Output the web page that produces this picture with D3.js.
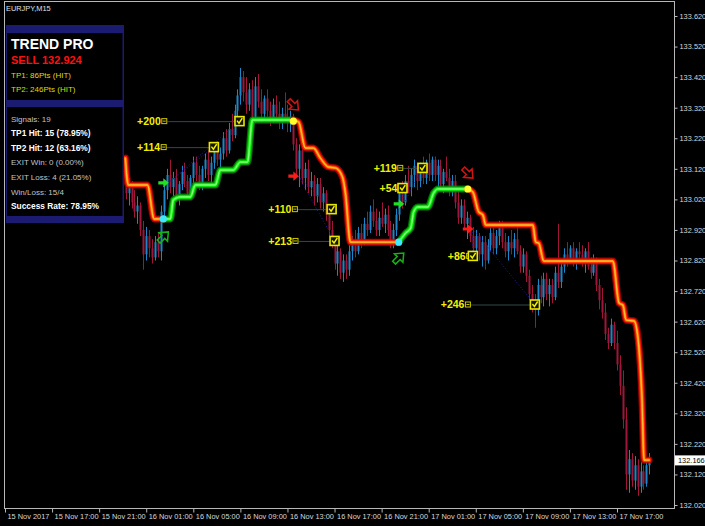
<!DOCTYPE html>
<html><head><meta charset="utf-8">
<script src="https://cdn.jsdelivr.net/npm/d3@7"></script>
<style>
html,body{margin:0;padding:0;background:#000;}
svg{display:block;}
text{font-family:"Liberation Sans",Arial,sans-serif;}
</style></head>
<body>
<svg id="chart" width="705" height="526"></svg>
<script>
// ---------------- DATA ----------------
const symbolTitle = "EURJPY,M15";
const firstBarTime = Date.UTC(2017, 10, 15, 23, 15); // first visible M15 bar
const barMinutes = 15;

const opens = [133.06,
133.04,133.07,133.01,132.98,133.00,132.92,132.84,132.90,132.86,132.83,
132.88,132.85,132.98,133.05,133.10,133.06,133.09,133.03,133.07,133.11,
133.08,133.04,133.09,133.14,133.10,133.07,133.12,133.15,133.10,133.14,
133.18,133.15,133.17,133.22,133.18,133.25,133.23,133.31,133.36,133.42,
133.37,133.33,133.38,133.29,133.39,133.34,133.30,133.35,133.31,133.28,
133.33,133.30,133.27,133.30,133.29,133.27,133.29,133.20,133.12,133.18,
133.09,133.12,133.06,133.08,133.03,133.07,133.01,133.04,132.97,132.92,
132.88,132.81,132.85,132.78,132.82,132.79,132.85,132.88,132.85,132.91,
132.88,132.94,132.92,132.98,132.95,132.92,132.96,132.94,132.97,132.92,
132.88,132.92,132.97,133.04,133.01,133.08,133.06,133.10,133.13,133.08,
133.12,133.09,133.14,133.10,133.15,133.10,133.13,133.07,133.11,133.09,
133.05,133.08,133.01,132.96,133.00,132.94,132.96,132.90,132.86,132.90,
132.84,132.88,132.82,132.87,132.91,132.86,132.90,132.93,132.88,132.85,
132.88,132.86,132.89,132.85,132.80,132.84,132.77,132.71,132.68,132.66,
132.74,132.70,132.76,132.71,132.74,132.70,132.78,132.75,132.80,132.84,
132.82,132.86,132.81,132.85,132.84,132.82,132.85,132.80,132.78,132.82,
132.74,132.69,132.65,132.58,132.55,132.61,132.55,132.48,132.41,132.30,
132.12,132.17,132.10,132.15,132.08,132.13,132.09,132.15];

const closes = [
133.04,133.07,133.01,132.98,133.00,132.92,132.84,132.90,132.86,132.83,
132.88,132.85,132.98,133.05,133.10,133.06,133.09,133.03,133.07,133.11,
133.08,133.04,133.09,133.14,133.10,133.07,133.12,133.15,133.10,133.14,
133.18,133.15,133.17,133.22,133.18,133.25,133.23,133.31,133.36,133.42,
133.37,133.33,133.38,133.29,133.39,133.34,133.30,133.35,133.31,133.28,
133.33,133.30,133.27,133.30,133.29,133.27,133.29,133.20,133.12,133.18,
133.09,133.12,133.06,133.08,133.03,133.07,133.01,133.04,132.97,132.92,
132.88,132.81,132.85,132.78,132.82,132.79,132.85,132.88,132.85,132.91,
132.88,132.94,132.92,132.98,132.95,132.92,132.96,132.94,132.97,132.92,
132.88,132.92,132.97,133.04,133.01,133.08,133.06,133.10,133.13,133.08,
133.12,133.09,133.14,133.10,133.15,133.10,133.13,133.07,133.11,133.09,
133.05,133.08,133.01,132.96,133.00,132.94,132.96,132.90,132.86,132.90,
132.84,132.88,132.82,132.87,132.91,132.86,132.90,132.93,132.88,132.85,
132.88,132.86,132.89,132.85,132.80,132.84,132.77,132.71,132.68,132.66,
132.74,132.70,132.76,132.71,132.74,132.70,132.78,132.75,132.80,132.84,
132.82,132.86,132.81,132.85,132.84,132.82,132.85,132.80,132.78,132.82,
132.74,132.69,132.65,132.58,132.55,132.61,132.55,132.48,132.41,132.30,
132.12,132.17,132.10,132.15,132.08,132.13,132.09,132.15,132.166];

const highs = [
133.10,133.09,133.08,133.05,133.03,133.01,132.95,132.93,132.92,132.89,
132.90,132.91,133.00,133.07,133.12,133.15,133.11,133.12,133.08,133.13,
133.14,133.10,133.10,133.16,133.16,133.13,133.13,133.17,133.18,133.16,
133.20,133.21,133.19,133.24,133.25,133.27,133.30,133.33,133.38,133.45,
133.44,133.42,133.40,133.41,133.42,133.43,133.38,133.36,133.38,133.34,
133.35,133.36,133.34,133.32,133.37,133.33,133.31,133.30,133.22,133.20,
133.19,133.14,133.15,133.11,133.10,133.09,133.09,133.06,133.05,133.00,
132.95,132.90,132.87,132.86,132.84,132.84,132.87,132.90,132.92,132.93,
132.94,132.96,132.98,133.00,133.02,132.99,132.98,133.01,132.99,133.00,
132.95,132.94,132.99,133.06,133.08,133.10,133.13,133.12,133.15,133.14,
133.14,133.16,133.15,133.17,133.16,133.16,133.15,133.15,133.12,133.16,
133.12,133.10,133.10,133.05,133.02,133.02,132.98,132.97,132.93,132.92,
132.91,132.90,132.90,132.89,132.93,132.93,132.92,132.95,132.95,132.91,
132.90,132.92,132.91,132.93,132.87,132.86,132.85,132.79,132.74,132.71,
132.76,132.77,132.78,132.78,132.76,132.76,132.80,132.94,132.82,132.86,
132.88,132.87,132.88,132.86,132.88,132.87,132.86,132.88,132.83,132.84,
132.83,132.76,132.73,132.68,132.60,132.63,132.62,132.59,132.51,132.46,
132.34,132.20,132.19,132.18,132.17,132.16,132.15,132.17,132.19];

const lows = [
133.02,133.00,132.99,132.96,132.94,132.90,132.79,132.82,132.83,132.81,
132.82,132.83,132.82,132.96,133.02,133.04,133.03,133.01,133.00,133.05,
133.06,133.02,133.03,133.07,133.08,133.05,133.05,133.09,133.08,133.07,
133.12,133.13,133.11,133.15,133.16,133.17,133.21,133.22,133.28,133.33,
133.34,133.30,133.31,133.26,133.27,133.32,133.27,133.28,133.29,133.26,
133.27,133.28,133.25,133.25,133.28,133.24,133.24,133.18,133.10,133.06,
133.07,133.05,133.04,133.03,133.00,133.01,132.99,132.98,132.95,132.90,
132.86,132.79,132.77,132.76,132.75,132.76,132.77,132.82,132.83,132.84,
132.86,132.87,132.90,132.91,132.93,132.90,132.90,132.93,132.91,132.90,
132.86,132.86,132.90,132.95,132.99,133.00,133.04,133.03,133.06,133.05,
133.06,133.07,133.07,133.08,133.08,133.08,133.06,133.05,133.04,133.08,
133.03,133.03,132.99,132.94,132.94,132.92,132.89,132.88,132.84,132.84,
132.82,132.80,132.79,132.81,132.85,132.84,132.84,132.87,132.86,132.83,
132.82,132.84,132.83,132.84,132.78,132.78,132.75,132.69,132.65,132.60,
132.64,132.68,132.67,132.69,132.67,132.68,132.69,132.73,132.73,132.78,
132.80,132.81,132.80,132.79,132.82,132.80,132.78,132.79,132.76,132.77,
132.72,132.66,132.63,132.56,132.53,132.54,132.53,132.46,132.38,132.27,
132.07,132.06,132.08,132.07,132.05,132.06,132.07,132.08,132.12];

// trend line vertices (bar index, price, direction of segment starting here)
const trendIdx   = [-0.1, 0.9, 7.4, 9.7, 12.8, 15.2, 16.2, 18.6, 22.0, 23.7, 30.5, 32.2, 36.6, 39.0, 41.4, 43.1, 57.0,
                    58.8, 61.1, 63.8, 66.2, 68.9, 71.3, 73.7, 74.7, 76.4, 92.8,
                    95.2, 96.9, 97.9, 99.3, 102.7, 104.7, 106.1, 116.3,
                    118.0, 120.0, 121.4, 122.4, 138.4, 139.4, 140.4, 142.1, 165.6, 167.7, 169.0, 170.1, 172.8, 174.2, 175.5, 176.2, 177.9];
const trendPrice = [133.155, 133.067, 133.067, 132.956, 132.956, 132.956, 133.018, 133.028, 133.028, 133.067, 133.067, 133.116, 133.116, 133.142, 133.142, 133.280, 133.280,
                    133.273, 133.188, 133.188, 133.155, 133.126, 133.123, 133.093, 133.041, 132.880, 132.880,
                    132.910, 132.926, 132.979, 132.995, 132.995, 133.041, 133.054, 133.054,
                    133.044, 132.979, 132.969, 132.936, 132.936, 132.880, 132.877, 132.818, 132.818, 132.681, 132.674, 132.625, 132.622, 132.560, 132.363, 132.167, 132.167];
const trendDir   = ["S","S","S","S","B","B","B","B","B","B","B","B","B","B","B","B","S",
                    "S","S","S","S","S","S","S","S","S","B",
                    "B","B","B","B","B","B","B","S",
                    "S","S","S","S","S","S","S","S","S","S","S","S","S","S","S","S","S"];

// signals
const sigIdx        = [12.8, 57.0, 92.8, 116.3];
const sigType       = ["buy", "sell", "buy", "sell"];
const sigDotPrice   = [132.956, 133.276, 132.880, 133.054];
const sigEntryPrice = [133.074, 133.096, 133.005, 132.923];
const sigHollowPrice= [132.897, 133.329, 132.828, 133.106];

// take-profit annotations
const tpText     = ["+200", "+114", "+110", "+213", "+119", "+54", "+86", "+246"];
const tpPrice    = [133.276, 133.191, 132.988, 132.884, 133.123, 133.057, 132.835, 132.676];
const tpBoxIdx   = [38.7, 30.0, 70.0, 71.0, 100.9, 94.1, 118.0, 139.1];
const tpTextIdx  = [3.9, 3.9, 48.5, 48.5, 84.3, 86.3, 109.5, 107.1];
const tpSignal   = [0, 0, 1, 1, 2, 2, 3, 3];

// axes
const axisStartTime = Date.UTC(2017, 10, 15, 13, 0);
const timeTickLabels = ["15 Nov 2017","15 Nov 17:00","15 Nov 21:00","16 Nov 01:00","16 Nov 05:00","16 Nov 09:00","16 Nov 13:00",
  "16 Nov 17:00","16 Nov 21:00","17 Nov 01:00","17 Nov 05:00","17 Nov 09:00","17 Nov 13:00","17 Nov 17:00"];
const priceTicks = [133.620,133.520,133.420,133.320,133.220,133.120,133.020,132.920,132.820,132.720,132.620,132.520,132.420,132.320,132.220,132.120,132.020];
const currentPrice = 132.166;

// info panel
const panelTitle = "TREND PRO";
const panelSignal = "SELL 132.924";
const panelTP = ["TP1: 86Pts (HIT)", "TP2: 246Pts (HIT)"];
const panelStats = ["Signals: 19", "TP1 Hit: 15 (78.95%)", "TP2 Hit: 12 (63.16%)", "EXIT Win: 0 (0.00%)", "EXIT Loss: 4 (21.05%)", "Win/Loss: 15/4", "Success Rate: 78.95%"];
const panelStatsBold = [false, true, true, false, false, false, true];

// ---------------- DRAW ----------------
const svg = d3.select("#chart");
const W = 705, H = 526;
const L = 4, R = 674, T = 1, B = 508;

svg.append("rect").attr("width", W).attr("height", H).attr("fill", "#000");

const hourMs = 3600000;
const x = d3.scaleUtc()
  .domain([new Date(axisStartTime), new Date(axisStartTime + 52 * hourMs)])
  .range([5, 617]);
const y = d3.scaleLinear().domain([132.020, 133.620]).range([505, 16]);
const barMs = barMinutes * 60000;
const xi = i => x(new Date(firstBarTime + i * barMs));

svg.append("defs").append("clipPath").attr("id", "plot")
  .append("rect").attr("x", L).attr("y", T).attr("width", R - L).attr("height", B - T);

const plot = svg.append("g").attr("clip-path", "url(#plot)");

// candles
const bull = "#1d86c8", bear = "#a0163a";
const candles = plot.append("g");
closes.forEach((c, i) => {
  const o = opens[i], h = highs[i], l = lows[i];
  const col = c >= o ? bull : bear;
  const cx = Math.round(xi(i));
  candles.append("line").attr("x1", cx + 0.5).attr("x2", cx + 0.5)
    .attr("y1", y(h)).attr("y2", y(l)).attr("stroke", col).attr("stroke-width", 1);
  const top = y(Math.max(o, c)), bot = y(Math.min(o, c));
  candles.append("rect").attr("x", cx - 0.5).attr("width", 2)
    .attr("y", top).attr("height", Math.max(1, bot - top)).attr("fill", col);
});

// dotted entry -> TP lines
tpText.forEach((t, k) => {
  const s = tpSignal[k];
  plot.append("line")
    .attr("x1", xi(sigIdx[s]) + 5).attr("y1", y(sigEntryPrice[s]))
    .attr("x2", xi(tpBoxIdx[k])).attr("y2", y(tpPrice[k]))
    .attr("stroke", "#1e1e96").attr("stroke-width", 1).attr("stroke-dasharray", "1,2");
});

// trend line
const segs = [];
let cur = null;
for (let k = 0; k < trendIdx.length - 1; k++) {
  const d = trendDir[k];
  if (!cur || cur.dir !== d) {
    cur = { dir: d, pts: [[trendIdx[k], trendPrice[k]]] };
    segs.push(cur);
  }
  cur.pts.push([trendIdx[k + 1], trendPrice[k + 1]]);
}
const lineGen = d3.line().x(p => xi(p[0])).y(p => y(p[1])).curve(d3.curveMonotoneX);
const styles = {
  S: [["#c00000", 7, 0.8], ["#ff1e00", 4.6, 1], ["#ff8a00", 2.4, 1], ["#ffd850", 0.8, 1]],
  B: [["#008800", 7, 0.8], ["#00d000", 4.6, 1], ["#30ff30", 2.4, 1], ["#b0ffa0", 0.8, 1]]
};
const trendG = plot.append("g");
segs.forEach(sg => {
  styles[sg.dir].forEach(([c, w, op]) => {
    trendG.append("path").attr("d", lineGen(sg.pts)).attr("fill", "none")
      .attr("stroke", c).attr("stroke-width", w).attr("stroke-opacity", op)
      .attr("stroke-linejoin", "round").attr("stroke-linecap", "round");
  });
});

// signal dots & arrows
const arrowPath = "M-5,-1.6 L0,-1.6 L0,-4.6 L5.5,0 L0,4.6 L0,1.6 L-5,1.6 Z";
sigIdx.forEach((si, k) => {
  const buy = sigType[k] === "buy";
  const cx = xi(si);
  plot.append("circle").attr("cx", cx).attr("cy", y(sigDotPrice[k])).attr("r", 3.6)
    .attr("fill", buy ? "#40e8ff" : "#ffff30");
  plot.append("path").attr("d", arrowPath)
    .attr("transform", `translate(${cx},${y(sigEntryPrice[k])})`)
    .attr("fill", buy ? "#20e020" : "#ff1a1a");
  plot.append("path").attr("d", arrowPath)
    .attr("transform", `translate(${cx},${y(sigHollowPrice[k])}) rotate(${buy ? -45 : 45}) scale(1.3)`)
    .attr("fill", "none").attr("stroke", buy ? "#18b018" : "#d01414").attr("stroke-width", 1.2);
});

// TP annotations
tpText.forEach((t, k) => {
  const ty = y(tpPrice[k]);
  const tx = xi(tpTextIdx[k]);
  const bx = xi(tpBoxIdx[k]);
  const txt = plot.append("text").attr("x", tx).attr("y", ty).attr("dy", "0.36em")
    .attr("fill", "#f0f000").attr("font-size", 10.5).attr("font-weight", "bold").text(t);
  const tw = txt.node().getComputedTextLength();
  const ix = tx + tw + 0.5;
  plot.append("line").attr("x1", ix + 6).attr("x2", bx - 4.5).attr("y1", ty + 0.5).attr("y2", ty + 0.5)
    .attr("stroke", "#304a46").attr("stroke-width", 1);
  plot.append("rect").attr("x", ix + 0.5).attr("y", ty - 2.5).attr("width", 5).attr("height", 5)
    .attr("fill", "none").attr("stroke", "#c8c800").attr("stroke-width", 1);
  plot.append("line").attr("x1", ix + 1.5).attr("x2", ix + 4.5).attr("y1", ty).attr("y2", ty)
    .attr("stroke", "#c8c800").attr("stroke-width", 1);
  plot.append("rect").attr("x", bx - 4.5).attr("y", ty - 4.5).attr("width", 9).attr("height", 9)
    .attr("fill", "#141400").attr("stroke", "#e8e800").attr("stroke-width", 1.6);
  plot.append("path").attr("d", `M${bx - 2.5},${ty - 0.5} L${bx - 0.5},${ty + 2} L${bx + 2.8},${ty - 3}`)
    .attr("fill", "none").attr("stroke", "#f0f000").attr("stroke-width", 1.5);
});

// frame
svg.append("rect").attr("x", L + 0.5).attr("y", T + 0.5).attr("width", R - L).attr("height", B - T)
  .attr("fill", "none").attr("stroke", "#b8b8b8").attr("stroke-width", 1);

// bottom axis
const timeTicks = timeTickLabels.map((_, k) => new Date(axisStartTime + k * 4 * hourMs));
const xAxis = d3.axisBottom(x).tickValues(timeTicks).tickSize(4).tickFormat((d, k) => timeTickLabels[k]);
const gx = svg.append("g").attr("transform", `translate(0,${B + 0.5})`).call(xAxis);
gx.select(".domain").remove();
gx.selectAll(".tick line").attr("stroke", "#b8b8b8");
gx.selectAll(".tick text").attr("text-anchor", "start").attr("x", 2).attr("y", 5)
  .attr("fill", "#d8d8d8").attr("font-size", 7.4).attr("font-family", "Liberation Sans, Arial, sans-serif");

// right axis
const yAxis = d3.axisRight(y).tickValues(priceTicks).tickSize(3).tickFormat(d3.format(".3f"));
const gy = svg.append("g").attr("transform", `translate(${R + 0.5},0)`).call(yAxis);
gy.select(".domain").remove();
gy.selectAll(".tick line").attr("stroke", "#b8b8b8");
gy.selectAll(".tick text").attr("x", 5).attr("fill", "#d8d8d8").attr("font-size", 7.4)
  .attr("font-family", "Liberation Sans, Arial, sans-serif");

// current price tag
svg.append("rect").attr("x", 675).attr("y", y(currentPrice) - 5).attr("width", 30).attr("height", 10).attr("fill", "#fff");
svg.append("text").attr("x", 678).attr("y", y(currentPrice)).attr("dy", "0.35em")
  .attr("font-size", 7.4).attr("fill", "#000").text(d3.format(".3f")(currentPrice));

// title
svg.append("text").attr("x", 6).attr("y", 11).attr("font-size", 7.4).attr("fill", "#e0e0e0").text(symbolTitle);

// info panel
const navy = "#1b1b72";
const panel = svg.append("g");
panel.append("rect").attr("x", 6).attr("y", 25).attr("width", 118).attr("height", 198).attr("fill", navy);
panel.append("rect").attr("x", 7).attr("y", 33).attr("width", 115.5).attr("height", 67).attr("fill", "#000");
panel.append("rect").attr("x", 7).attr("y", 107).attr("width", 115.5).attr("height", 109).attr("fill", "#000");
panel.append("text").attr("x", 11).attr("y", 48.5).attr("font-size", 14).attr("font-weight", "bold").attr("fill", "#fff").text(panelTitle);
panel.append("text").attr("x", 11).attr("y", 63.5).attr("font-size", 11).attr("font-weight", "bold").attr("fill", "#ff1010").text(panelSignal);
panelTP.forEach((t, k) => {
  panel.append("text").attr("x", 11).attr("y", 77.5 + k * 14.5).attr("font-size", 8).attr("fill", "#dcdc00").text(t);
});
panelStats.forEach((t, k) => {
  panel.append("text").attr("x", 11).attr("y", 121.5 + k * 14.6).attr("font-size", panelStatsBold[k] ? 8.4 : 8)
    .attr("font-weight", panelStatsBold[k] ? "bold" : "normal")
    .attr("fill", panelStatsBold[k] ? "#ffffff" : "#c4c4c4").text(t);
});
</script>
</body></html>
